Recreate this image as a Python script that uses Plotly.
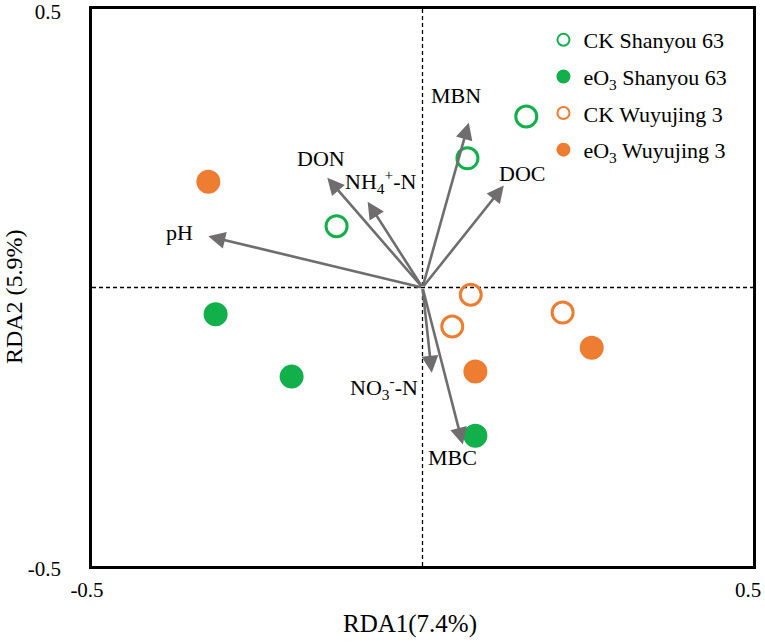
import plotly.graph_objects as go

# ── data ─────────────────────────────────────────────────────────────────────

ck_sy_x = [0.157, 0.068, -0.130]
ck_sy_y = [0.307, 0.232, 0.110]
eo_sy_x = [-0.313, -0.198, 0.080]
eo_sy_y = [-0.048, -0.160, -0.266]
ck_wy_x = [0.073, 0.045, 0.212]
ck_wy_y = [-0.013, -0.070, -0.045]
eo_wy_x = [-0.324, 0.080, 0.256]
eo_wy_y = [0.190, -0.151, -0.108]

env_names = ["pH", "DON", "NH<sub>4</sub><sup>+</sup>-N", "MBN", "DOC",
             "NO<sub>3</sub><sup>-</sup>-N", "MBC"]
env_x = [-0.324, -0.144, -0.083, 0.070, 0.123, 0.014, 0.061]
env_y = [0.092, 0.197, 0.154, 0.296, 0.183, -0.153, -0.282]
lab_x = [-0.368, -0.154, -0.064, 0.050, 0.151, -0.059, 0.045]
lab_y = [0.099, 0.232, 0.190, 0.345, 0.205, -0.180, -0.305]

# ── style ────────────────────────────────────────────────────────────────────

GREEN = "#12b04b"
ORANGE = "#ee7d31"
ARROW = "#6f6d6e"
FONT = "Liberation Serif, Times New Roman, serif"

fig = go.Figure()

series = [
    ("CK Shanyou 63", ck_sy_x, ck_sy_y, GREEN, "circle-open"),
    ("eO<sub>3</sub> Shanyou 63", eo_sy_x, eo_sy_y, GREEN, "circle"),
    ("CK Wuyujing 3", ck_wy_x, ck_wy_y, ORANGE, "circle-open"),
    ("eO<sub>3</sub> Wuyujing 3", eo_wy_x, eo_wy_y, ORANGE, "circle"),
]
for i, (name, xs, ys, col, sym) in enumerate(series):
    fig.add_trace(go.Scatter(
        x=xs, y=ys, mode="markers", name=name, legendgroup=f"g{i}",
        marker=dict(symbol=sym, size=21, color=col, line=dict(color=col, width=3)),
    ))

# dashed zero lines
for x0, x1, y0, y1 in [(0, 0, -0.5, 0.5), (-0.5, 0.5, 0, 0)]:
    fig.add_shape(type="line", x0=x0, x1=x1, y0=y0, y1=y1, layer="below",
                  line=dict(color="black", width=1.3, dash="4px,3px"))

# environmental arrows
for name, ex, ey, lx, ly in zip(env_names, env_x, env_y, lab_x, lab_y):
    fig.add_annotation(x=ex, y=ey, ax=0, ay=0, xref="x", yref="y", axref="x", ayref="y",
                       showarrow=True, arrowhead=2, arrowsize=1.3, arrowwidth=2.6,
                       arrowcolor=ARROW, text="")
    fig.add_annotation(x=lx, y=ly, xref="x", yref="y", text=name, showarrow=False,
                       font=dict(family=FONT, size=22, color="black"))

# axis titles (slightly off-centre in the original)
fig.add_annotation(x=0.481, y=-0.105, xref="paper", yref="paper", text="RDA1(7.4%)",
                   xanchor="center", yanchor="middle",
                   showarrow=False, font=dict(family=FONT, size=25))
fig.add_annotation(x=-0.117, y=0.484, xref="paper", yref="paper", text="RDA2 (5.9%)",
                   xanchor="center", yanchor="middle",
                   textangle=-90, showarrow=False, font=dict(family=FONT, size=24))

axis = dict(range=[-0.5, 0.5], tickvals=[-0.5, 0.5], ticktext=["-0.5", "0.5"],
            showgrid=False, zeroline=False, showline=True, linecolor="black",
            linewidth=2.5, mirror=True, ticks="", automargin=False,
            ticklabeloverflow="allow", tickfont=dict(family=FONT, size=21))

fig.update_layout(
    width=765, height=643,
    margin=dict(l=92, r=12, t=9, b=77),
    plot_bgcolor="white", paper_bgcolor="white",
    font=dict(family=FONT, size=21, color="black"),
    xaxis=dict(axis, ticklabelshift=-5, ticklabelstandoff=3),
    yaxis=dict(axis, ticklabelstandoff=24, ticklabelshift=3),
    legend=dict(x=0.683, y=0.982, xanchor="left", yanchor="top", bgcolor="rgba(0,0,0,0)",
                font=dict(family=FONT, size=22), itemsizing="constant", tracegroupgap=5),
    showlegend=True,
)

fig.write_html("out.html", config={"displayModeBar": False},
               post_script="document.body.style.margin='0';")
